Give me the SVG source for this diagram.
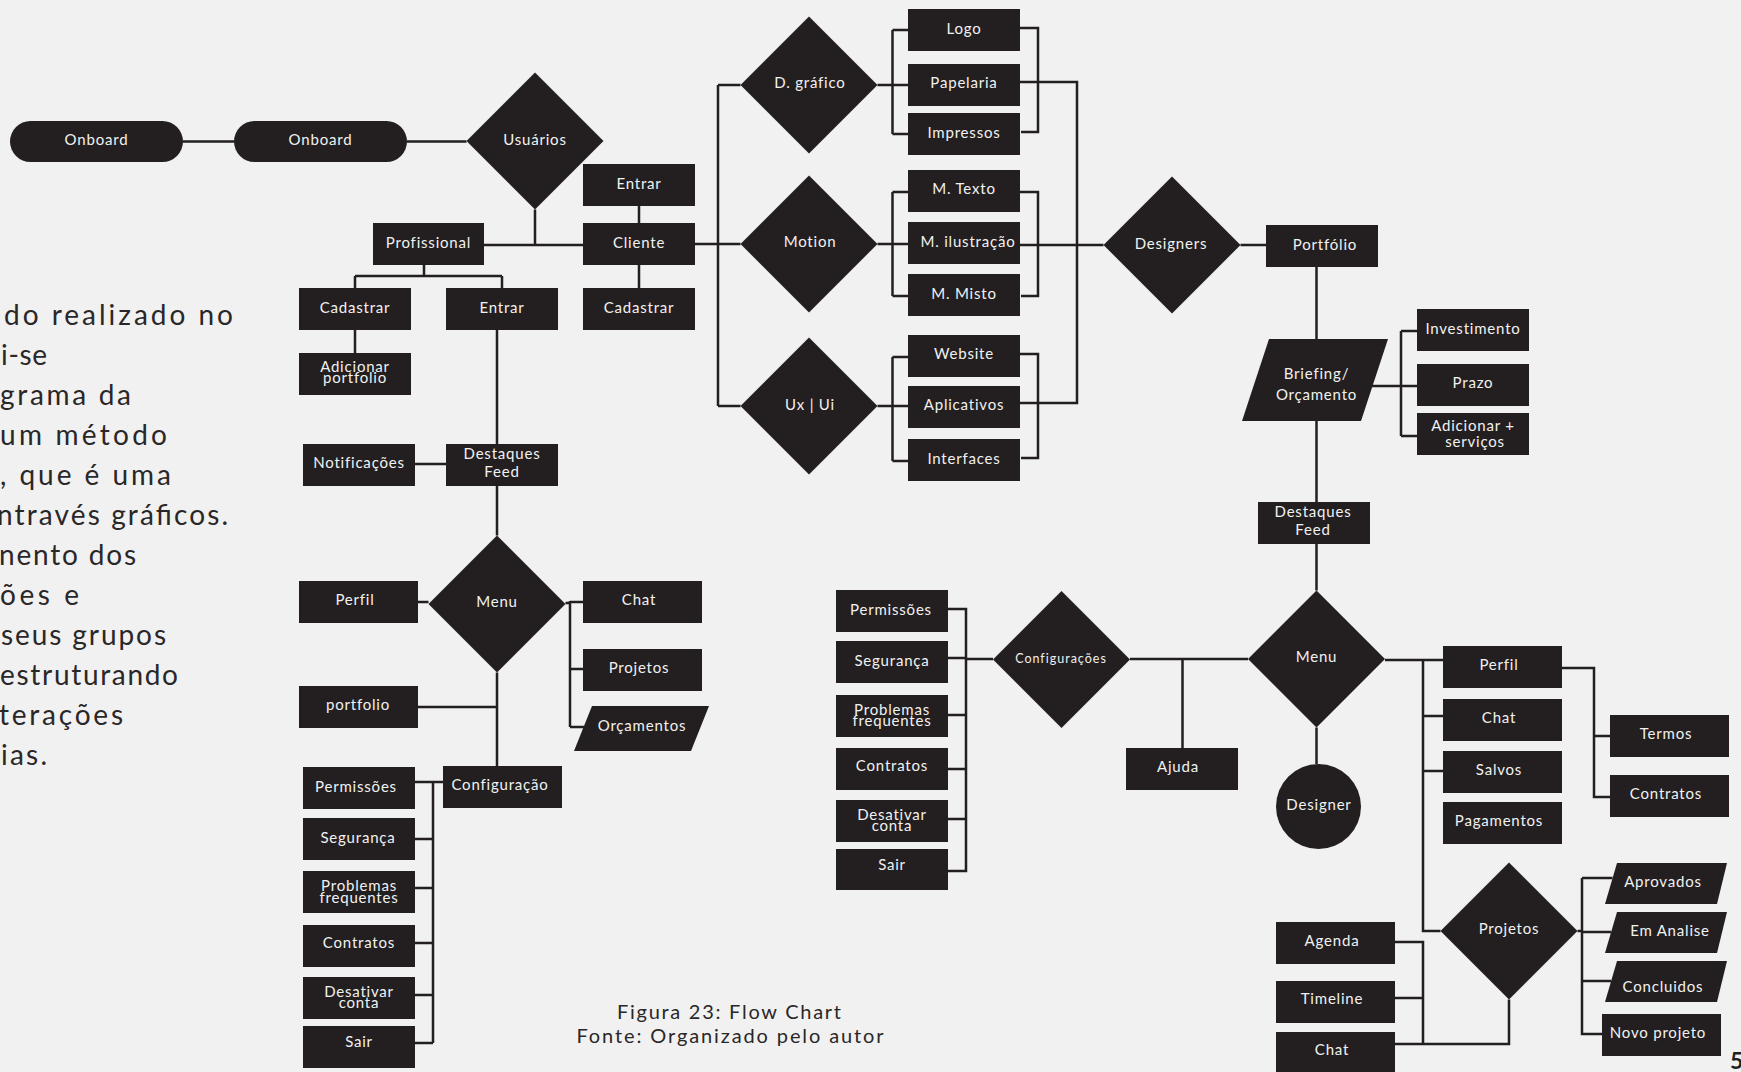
<svg xmlns="http://www.w3.org/2000/svg" width="1741" height="1072" viewBox="0 0 1741 1072">
<style>
.bg{fill:#f1f1f1}
.box{fill:#231f20}
.lbl{font-family:Lato,'Liberation Sans',sans-serif;font-size:15px;fill:#f1f1f1;text-anchor:middle;dominant-baseline:middle;letter-spacing:0.8px}
.sm{font-size:12.5px;letter-spacing:1px}
.conn path{stroke:#231f20;stroke-width:2.5;fill:none}
.para{font-family:Lato,'Liberation Sans',sans-serif;font-size:28px;fill:#2a2728}
.cap{font-family:Lato,'Liberation Sans',sans-serif;font-size:20px;fill:#2a2728;text-anchor:middle}
</style>
<rect class="bg" x="0" y="0" width="1741" height="1072"/>

<g id="paragraph">
<text class="para" x="4" y="325" textLength="229" lengthAdjust="spacing">do realizado no</text>
<text class="para" x="1" y="365" textLength="46" lengthAdjust="spacing">i-se</text>
<text class="para" x="0" y="405" textLength="131" lengthAdjust="spacing">grama da</text>
<text class="para" x="0" y="445" textLength="167" lengthAdjust="spacing">um método</text>
<text class="para" x="0" y="485" textLength="171" lengthAdjust="spacing">, que é uma</text>
<text class="para" x="-3" y="525" textLength="231" lengthAdjust="spacing">ntravés gráficos.</text>
<text class="para" x="-1" y="565" textLength="137" lengthAdjust="spacing">nento dos</text>
<text class="para" x="0" y="605" textLength="79" lengthAdjust="spacing">ões e</text>
<text class="para" x="1" y="645" textLength="165" lengthAdjust="spacing">seus grupos</text>
<text class="para" x="0" y="685" textLength="178" lengthAdjust="spacing">estruturando</text>
<text class="para" x="-1" y="725" textLength="124" lengthAdjust="spacing">terações</text>
<text class="para" x="1" y="765" textLength="46" lengthAdjust="spacing">ias.</text>
</g>

<g class="conn" id="connectors">
<path d="M183 141.5H234M407 141.5H466.5"/>
<path d="M535 209.5V245M484 245H583"/>
<path d="M639 206V223M639 265V288"/>
<path d="M424 265V276M355 276H502M355 276V288M502 276V288"/>
<path d="M355 330V353"/>
<path d="M497 330V444M415 464H446M497 486V535.5"/>
<path d="M418 602H428.5M565.5 603H570M570 601V727M570 602H583M570 669H583M570 727H584"/>
<path d="M497 672.5V766M418 707H497"/>
<path d="M415 782H443M433 782V1043M415 839H433M415 888H433M415 943H433M415 995H433M415 1043H433"/>
<path d="M695 244H740.5M718 85V406M718 85H740.5M718 406H740.5"/>
<path d="M877.5 85H908M892.5 30V134M892.5 30H908M892.5 134H908"/>
<path d="M1020 28H1038V132H1021"/>
<path d="M1020 82H1077V403H1020"/>
<path d="M1020 245H1103.5"/>
<path d="M877.5 244H908M892.5 192V296M892.5 192H908M892.5 296H908"/>
<path d="M1020 192H1038V296H1021"/>
<path d="M877.5 406H908M892.5 357V461M892.5 357H908M892.5 461H908"/>
<path d="M1020 354H1038V458H1021"/>
<path d="M1240.5 245H1266"/>
<path d="M1316.5 267V339M1316.5 421V502M1316.5 544V590.5"/>
<path d="M1372 386H1417M1401 331V436M1401 331H1417M1401 436H1417"/>
<path d="M948 609H966V871H948M948 658H966M948 715H966M948 769H966M948 819H966M966 659H993"/>
<path d="M1130 659H1248M1182.5 659V748"/>
<path d="M1316.5 727.5V764"/>
<path d="M1385 660H1443M1423 660V931H1440.5M1423 716H1443M1423 771H1443"/>
<path d="M1562 668H1594V797H1610M1594 736H1610"/>
<path d="M1577.5 931H1582M1582 878V1034H1602M1582 878H1612.5M1582 932H1611M1582 981H1611"/>
<path d="M1395 942H1423V1044H1509V999.5M1395 998H1423M1395 1044H1423"/>
</g>

<g id="onboard1"><rect class="box" x="10" y="121" width="173" height="41" rx="20.5"/><text class="lbl" x="96.5" y="141.5">Onboard</text></g>
<g id="onboard2"><rect class="box" x="234" y="121" width="173" height="41" rx="20.5"/><text class="lbl" x="320.5" y="141.5">Onboard</text></g>
<g id="usuarios"><polygon class="box" points="466.5,141 535,72.5 603.5,141 535,209.5"/><text class="lbl" x="535" y="141">Usuários</text></g>
<g id="entrar-cliente"><rect class="box" x="583" y="164" width="112" height="42"/><text class="lbl" x="639" y="185">Entrar</text></g>
<g id="cliente"><rect class="box" x="583" y="223" width="112" height="42"/><text class="lbl" x="639" y="244">Cliente</text></g>
<g id="cadastrar-cliente"><rect class="box" x="583" y="288" width="112" height="42"/><text class="lbl" x="639" y="309">Cadastrar</text></g>
<g id="profissional"><rect class="box" x="373" y="223" width="111" height="42"/><text class="lbl" x="428.5" y="244">Profissional</text></g>
<g id="cadastrar-prof"><rect class="box" x="299" y="288" width="112" height="42"/><text class="lbl" x="355" y="309">Cadastrar</text></g>
<g id="entrar-prof"><rect class="box" x="446" y="288" width="112" height="42"/><text class="lbl" x="502" y="309">Entrar</text></g>
<g id="adicionar-portfolio"><rect class="box" x="299" y="353" width="112" height="42"/><text class="lbl" x="355" y="368">Adicionar</text><text class="lbl" x="355" y="379">portfolio</text></g>
<g id="notificacoes"><rect class="box" x="303" y="444" width="112" height="42"/><text class="lbl" x="359" y="464">Notificações</text></g>
<g id="destaques-left"><rect class="box" x="446" y="444" width="112" height="42"/><text class="lbl" x="502" y="455.5">Destaques</text><text class="lbl" x="502" y="473">Feed</text></g>
<g id="menu-left"><polygon class="box" points="428.5,604 497,535.5 565.5,604 497,672.5"/><text class="lbl" x="497" y="603">Menu</text></g>
<g id="perfil-left"><rect class="box" x="299" y="581" width="119" height="42"/><text class="lbl" x="355" y="601">Perfil</text></g>
<g id="chat-left"><rect class="box" x="583" y="581" width="119" height="42"/><text class="lbl" x="639" y="601">Chat</text></g>
<g id="projetos-left"><rect class="box" x="583" y="649" width="119" height="42"/><text class="lbl" x="639" y="669">Projetos</text></g>
<g id="orcamentos-left"><polygon class="box" points="592,706 709,706 691,751 574,751"/><text class="lbl" x="642" y="727">Orçamentos</text></g>
<g id="portfolio-left"><rect class="box" x="299" y="686" width="119" height="42"/><text class="lbl" x="358" y="706">portfolio</text></g>
<g id="configuracao"><rect class="box" x="443" y="766" width="119" height="42"/><text class="lbl" x="500" y="786">Configuração</text></g>
<g id="permissoes-left"><rect class="box" x="303" y="767" width="112" height="42"/><text class="lbl" x="356" y="788">Permissões</text></g>
<g id="seguranca-left"><rect class="box" x="303" y="818" width="112" height="42"/><text class="lbl" x="358" y="839">Segurança</text></g>
<g id="problemas-left"><rect class="box" x="303" y="871" width="112" height="42"/><text class="lbl" x="359" y="887">Problemas</text><text class="lbl" x="359" y="899">frequentes</text></g>
<g id="contratos-left"><rect class="box" x="303" y="925" width="112" height="42"/><text class="lbl" x="359" y="944">Contratos</text></g>
<g id="desativar-left"><rect class="box" x="303" y="977" width="112" height="42"/><text class="lbl" x="359" y="993">Desativar</text><text class="lbl" x="359" y="1004">conta</text></g>
<g id="sair-left"><rect class="box" x="303" y="1026" width="112" height="42"/><text class="lbl" x="359" y="1043">Sair</text></g>

<g id="dgrafico"><polygon class="box" points="740.5,85 809,16.5 877.5,85 809,153.5"/><text class="lbl" x="810" y="84">D. gráfico</text></g>
<g id="motion"><polygon class="box" points="740.5,244 809,175.5 877.5,244 809,312.5"/><text class="lbl" x="810" y="243">Motion</text></g>
<g id="uxui"><polygon class="box" points="740.5,406 809,337.5 877.5,406 809,474.5"/><text class="lbl" x="810" y="406">Ux | Ui</text></g>
<g id="logo"><rect class="box" x="908" y="9" width="112" height="42"/><text class="lbl" x="964" y="30">Logo</text></g>
<g id="papelaria"><rect class="box" x="908" y="64" width="112" height="42"/><text class="lbl" x="964" y="84">Papelaria</text></g>
<g id="impressos"><rect class="box" x="908" y="113" width="112" height="42"/><text class="lbl" x="964" y="134">Impressos</text></g>
<g id="mtexto"><rect class="box" x="908" y="170" width="112" height="42"/><text class="lbl" x="964" y="190">M. Texto</text></g>
<g id="milustracao"><rect class="box" x="908" y="222" width="112" height="42"/><text class="lbl" x="968" y="243">M. ilustração</text></g>
<g id="mmisto"><rect class="box" x="908" y="274" width="112" height="42"/><text class="lbl" x="964" y="295">M. Misto</text></g>
<g id="website"><rect class="box" x="908" y="335" width="112" height="42"/><text class="lbl" x="964" y="355">Website</text></g>
<g id="aplicativos"><rect class="box" x="908" y="386" width="112" height="42"/><text class="lbl" x="964" y="406">Aplicativos</text></g>
<g id="interfaces"><rect class="box" x="908" y="439" width="112" height="42"/><text class="lbl" x="964" y="460">Interfaces</text></g>

<g id="designers"><polygon class="box" points="1103.5,245 1172,176.5 1240.5,245 1172,313.5"/><text class="lbl" x="1171" y="245">Designers</text></g>
<g id="portfolio-right"><rect class="box" x="1266" y="225" width="112" height="42"/><text class="lbl" x="1325" y="246">Portfólio</text></g>
<g id="briefing"><polygon class="box" points="1269,339 1388,339 1361,421 1242,421"/><text class="lbl" x="1316.5" y="375">Briefing/</text><text class="lbl" x="1316.5" y="396">Orçamento</text></g>
<g id="investimento"><rect class="box" x="1417" y="309" width="112" height="42"/><text class="lbl" x="1473" y="330">Investimento</text></g>
<g id="prazo"><rect class="box" x="1417" y="364" width="112" height="42"/><text class="lbl" x="1473" y="384">Prazo</text></g>
<g id="adicionar-servicos"><rect class="box" x="1417" y="413" width="112" height="42"/><text class="lbl" x="1473" y="427.5">Adicionar +</text><text class="lbl" x="1475" y="443.5">serviços</text></g>
<g id="destaques-right"><rect class="box" x="1258" y="502" width="112" height="42"/><text class="lbl" x="1313" y="513">Destaques</text><text class="lbl" x="1313" y="531">Feed</text></g>

<g id="menu-right"><polygon class="box" points="1248,659 1316.5,590.5 1385,659 1316.5,727.5"/><text class="lbl" x="1316.5" y="658">Menu</text></g>
<g id="configuracoes"><polygon class="box" points="993,659.5 1061.5,591 1130,659.5 1061.5,728"/><text class="lbl sm" x="1061" y="660">Configurações</text></g>
<g id="permissoes-right"><rect class="box" x="836" y="590" width="112" height="42"/><text class="lbl" x="891" y="611">Permissões</text></g>
<g id="seguranca-right"><rect class="box" x="836" y="641" width="112" height="42"/><text class="lbl" x="892" y="662">Segurança</text></g>
<g id="problemas-right"><rect class="box" x="836" y="695" width="112" height="42"/><text class="lbl" x="892" y="711">Problemas</text><text class="lbl" x="892" y="722.5">frequentes</text></g>
<g id="contratos-right"><rect class="box" x="836" y="748" width="112" height="42"/><text class="lbl" x="892" y="767">Contratos</text></g>
<g id="desativar-right"><rect class="box" x="836" y="800" width="112" height="42"/><text class="lbl" x="892" y="816.5">Desativar</text><text class="lbl" x="892" y="827.5">conta</text></g>
<g id="sair-right"><rect class="box" x="836" y="849" width="112" height="41"/><text class="lbl" x="892" y="866">Sair</text></g>
<g id="ajuda"><rect class="box" x="1126" y="748" width="112" height="42"/><text class="lbl" x="1178" y="768">Ajuda</text></g>
<g id="designer"><circle class="box" cx="1318.5" cy="806.5" r="42.5"/><text class="lbl" x="1319" y="806">Designer</text></g>

<g id="perfil-right"><rect class="box" x="1443" y="646" width="119" height="42"/><text class="lbl" x="1499" y="666">Perfil</text></g>
<g id="chat-right"><rect class="box" x="1443" y="699" width="119" height="42"/><text class="lbl" x="1499" y="719">Chat</text></g>
<g id="salvos"><rect class="box" x="1443" y="751" width="119" height="42"/><text class="lbl" x="1499" y="771">Salvos</text></g>
<g id="pagamentos"><rect class="box" x="1443" y="802" width="119" height="42"/><text class="lbl" x="1499" y="822">Pagamentos</text></g>
<g id="termos"><rect class="box" x="1610" y="715" width="119" height="42"/><text class="lbl" x="1666" y="735">Termos</text></g>
<g id="contratos-perfil"><rect class="box" x="1610" y="775" width="119" height="42"/><text class="lbl" x="1666" y="795">Contratos</text></g>
<g id="projetos-right"><polygon class="box" points="1440.5,931 1509,862.5 1577.5,931 1509,999.5"/><text class="lbl" x="1509" y="930">Projetos</text></g>
<g id="aprovados"><polygon class="box" points="1617,863 1727,863 1717,904 1605,904"/><text class="lbl" x="1663" y="883">Aprovados</text></g>
<g id="em-analise"><polygon class="box" points="1617,912 1727,912 1717,953 1605,953"/><text class="lbl" x="1670" y="932">Em Analise</text></g>
<g id="concluidos"><polygon class="box" points="1617,961 1727,961 1717,1002 1605,1002"/><text class="lbl" x="1663" y="988">Concluidos</text></g>
<g id="novo-projeto"><rect class="box" x="1602" y="1014" width="119" height="42"/><text class="lbl" x="1658" y="1034">Novo projeto</text></g>
<g id="agenda"><rect class="box" x="1276" y="922" width="119" height="42"/><text class="lbl" x="1332" y="942">Agenda</text></g>
<g id="timeline"><rect class="box" x="1276" y="981" width="119" height="42"/><text class="lbl" x="1332" y="1000">Timeline</text></g>
<g id="chat-bottom"><rect class="box" x="1276" y="1032" width="119" height="42"/><text class="lbl" x="1332" y="1051">Chat</text></g>

<g id="caption">
<text class="cap" x="729" y="1019" textLength="224" lengthAdjust="spacing">Figura 23: Flow Chart</text>
<text class="cap" x="730" y="1043" textLength="307" lengthAdjust="spacing">Fonte: Organizado pelo autor</text>
</g>
<text x="1730" y="1069" style="font-family:Lato,'Liberation Sans',sans-serif;font-size:23px;font-weight:bold;fill:#231f20">5</text>
</svg>
